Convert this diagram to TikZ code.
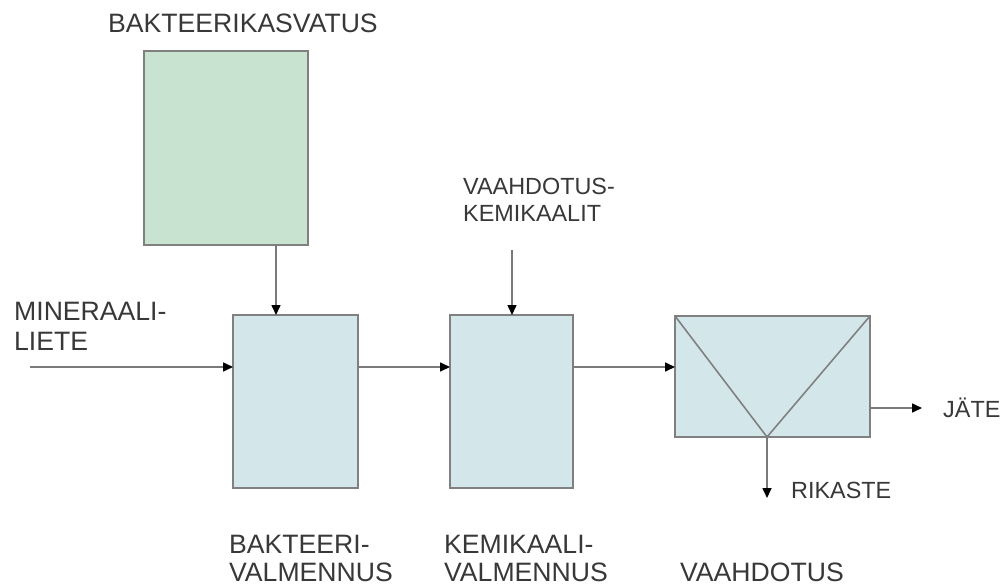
\documentclass[tikz,border=0pt]{standalone}
\usepackage{fontspec}
\setmainfont{Liberation Sans}
\usetikzlibrary{arrows.meta}
\definecolor{boxgreen}{HTML}{C9E3D1}
\definecolor{boxblue}{HTML}{D3E7EB}
\definecolor{edgegray}{HTML}{808080}
\definecolor{linegray}{HTML}{7A7A7A}
\definecolor{txt}{HTML}{383838}
\begin{document}
\begin{tikzpicture}[x=1pt,y=-1pt,
  proc/.style={draw=edgegray,line width=2pt,fill=boxblue,inner sep=0pt,outer sep=0pt},
  flow/.style={draw=linegray,line width=1.6pt,-{Triangle[length=10pt,width=9pt,fill=black,color=black]}},
  lbl/.style={anchor=base west,inner sep=0pt,text=txt,font=\fontsize{26.6}{30}\selectfont},
  slbl/.style={lbl,font=\fontsize{23.4}{28}\selectfont}]
\useasboundingbox (0,0) rectangle (1006,588);
\fill[white] (0,0) rectangle (1006,588);
% boxes
\node[proc,fill=boxgreen,minimum width=164pt,minimum height=194pt] (kasv) at (226,148) {};
\node[proc,minimum width=125pt,minimum height=173pt] (bakt) at (295.5,401.5) {};
\node[proc,minimum width=123pt,minimum height=173pt] (kemi) at (511.5,401.5) {};
\node[proc,minimum width=195pt,minimum height=121pt] (vaah) at (772.5,376.5) {};
\coordinate (vbot) at (767,437);
\draw[edgegray,line width=1.6pt] (vaah.north west) -- (vbot) -- (vaah.north east);
% coordinates
\coordinate (minin) at (30,367);
\coordinate (kemin) at (512,250);
\coordinate (jate) at (922,408);
\coordinate (rik) at (767,498);
% flows
\draw[flow] (kasv.south -| 276,0) -- (bakt.north -| 276,0);
\draw[flow] (minin) -- (minin -| bakt.west);
\draw[flow] (bakt.east |- 0,367) -- (kemi.west |- 0,367);
\draw[flow] (kemi.east |- 0,367) -- (vaah.west |- 0,367);
\draw[flow] (kemin) -- (kemin |- kemi.north);
\draw[flow] (vaah.east |- jate) -- (jate);
\draw[flow] (vbot) -- (rik);
% labels
\node[lbl] (t1) at (108,33) {BAKTEERIKASVATUS};
\node[slbl] (t2) at (463,194) {VAAHDOTUS-};
\node[slbl] (t3) at (463,222) {KEMIKAALIT};
\node[lbl] (t4) at (14,320) {MINERAALI-};
\node[lbl] (t5) at (14,350) {LIETE};
\node[slbl] (t6) at (943,417) {JÄTE};
\node[slbl] (t7) at (791,498) {RIKASTE};
\node[lbl] (t8) at (229,553) {BAKTEERI-};
\node[lbl] (t9) at (229,581) {VALMENNUS};
\node[lbl] (t10) at (444,553) {KEMIKAALI-};
\node[lbl] (t11) at (444,581) {VALMENNUS};
\node[lbl] (t12) at (680,581) {VAAHDOTUS};
\end{tikzpicture}
\end{document}
